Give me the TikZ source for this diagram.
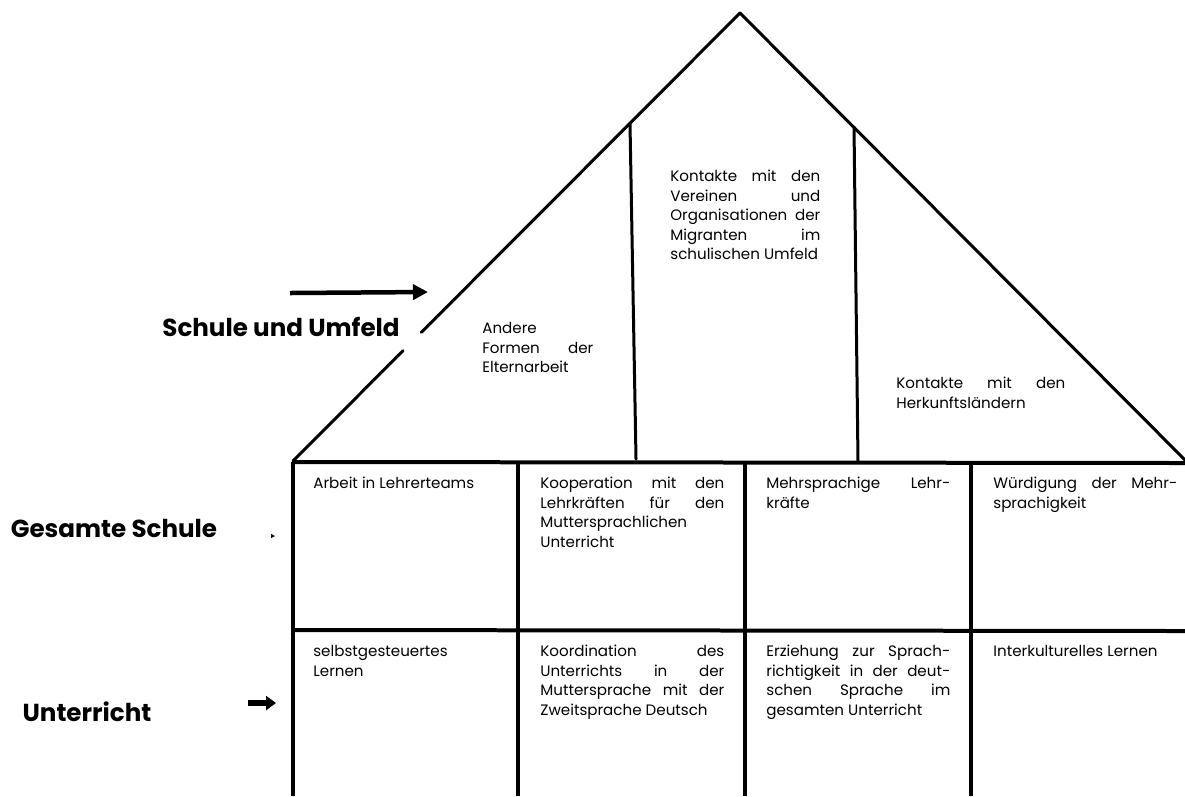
\documentclass[tikz,border=0pt]{standalone}
\usepackage{fontspec}
\setmainfont{Poppins}
\usetikzlibrary{arrows.meta,calc}
\newcommand\jl[2]{\makebox[#1][s]{#2}\\}
\begin{document}
\begin{tikzpicture}[x=0.02cm,y=-0.02cm,
  roof/.style={line width=0.06cm,line cap=round,line join=miter},
  grid/.style={line width=0.08cm},
  txt/.style={anchor=north west,inner sep=0pt,align=left,font=\fontsize{8.6}{11.1}\selectfont},
  big/.style={inner sep=0pt,font=\fontsize{14}{16}\selectfont\bfseries},
  bigarrow/.style={line width=0.09cm,-{Triangle[length=0.3cm,width=0.3cm]}}]
\useasboundingbox (0,0) rectangle (1185,796);
% roof
\coordinate (apex) at (740,13);
\coordinate (L) at (293,461);
\coordinate (R) at (1185,460);
\coordinate (gapA) at ($(apex)!0.713!(L)$);
\coordinate (gapB) at ($(apex)!0.754!(L)$);
\draw[roof] (apex) -- (gapA);
\draw[roof] (gapB) -- (L);
\draw[roof] (apex) -- (R);
\coordinate (v1t) at (630,124);
\coordinate (v1b) at (636,459);
\coordinate (v2t) at (854,127);
\coordinate (v2b) at (858,462);
\draw[roof] (v1t) -- (v1b);
\draw[roof] (v2t) -- (v2b);
% grid
\coordinate (h1l) at (293,462);
\coordinate (h1r) at (1185,463);
\coordinate (h2l) at (293,630);
\coordinate (h2r) at (1185,631);
\draw[grid] (h1l) -- (h1r);
\draw[grid] (h2l) -- (h2r);
\foreach \x/\n in {293/a,518/b,745/c,971/d}{
  \coordinate (c\n t) at (\x,462);
  \coordinate (c\n b) at (\x,796);
}
\draw[grid] (cat) -- (cab);
\draw[grid] (cbt) -- (cbb);
\draw[grid] (cct) -- (ccb);
\draw[grid] (cdt) -- (cdb);
% roof texts
\node[txt] (rm) at (670,170) {\jl{3.0cm}{Kontakte mit den}\jl{3.0cm}{Vereinen und}\jl{3.0cm}{Organisationen der}\jl{3.0cm}{Migranten im}schulischen Umfeld};
\node[txt] (rl) at (482,322) {Andere\\\jl{2.22cm}{Formen der}Elternarbeit};
\node[txt] (rr) at (896,377) {\jl{3.38cm}{Kontakte mit den}Herkunftsländern};
% row 1
\node[txt] (a1) at (313,477) {Arbeit in Lehrerteams};
\node[txt] (b1) at (540,477) {\jl{3.68cm}{Kooperation mit den}\jl{3.68cm}{Lehrkräften für den}Muttersprachlichen\\Unterricht};
\node[txt] (c1) at (766,477) {\jl{3.68cm}{Mehrsprachige Lehr-}kräfte};
\node[txt] (d1) at (993,477) {\jl{3.68cm}{Würdigung der Mehr-}sprachigkeit};
% row 2
\node[txt] (a2) at (313,645) {selbstgesteuertes\\Lernen};
\node[txt] (b2) at (540,645) {\jl{3.68cm}{Koordination des}\jl{3.68cm}{Unterrichts in der}\jl{3.68cm}{Muttersprache mit der}Zweitsprache Deutsch};
\node[txt] (c2) at (766,645) {\jl{3.68cm}{Erziehung zur Sprach-}\jl{3.68cm}{richtigkeit in der deut-}\jl{3.68cm}{schen Sprache im}gesamten Unterricht};
\node[txt] (d2) at (993,645) {Interkulturelles Lernen};
% left labels
\node[big] (l1) at (281,327) {Schule und Umfeld};
\node[big] (l2) at (114,528) {Gesamte Schule};
\node[big] (l3) at (87,712) {Unterricht};
% arrows
\coordinate (a1s) at (290,293);
\coordinate (a1e) at (428,292);
\draw[bigarrow] (a1s) -- (a1e);
\coordinate (a2s) at (271,536);
\coordinate (a2e) at (275,536);
\draw[line width=0.01cm,-{Triangle[length=0.08cm,width=0.08cm]}] (a2s) -- (a2e);
\coordinate (a3s) at (248,703);
\coordinate (a3e) at (276,703);
\draw[line width=0.12cm,-{Triangle[length=0.2cm,width=0.28cm]}] (a3s) -- (a3e);
\end{tikzpicture}
\end{document}
